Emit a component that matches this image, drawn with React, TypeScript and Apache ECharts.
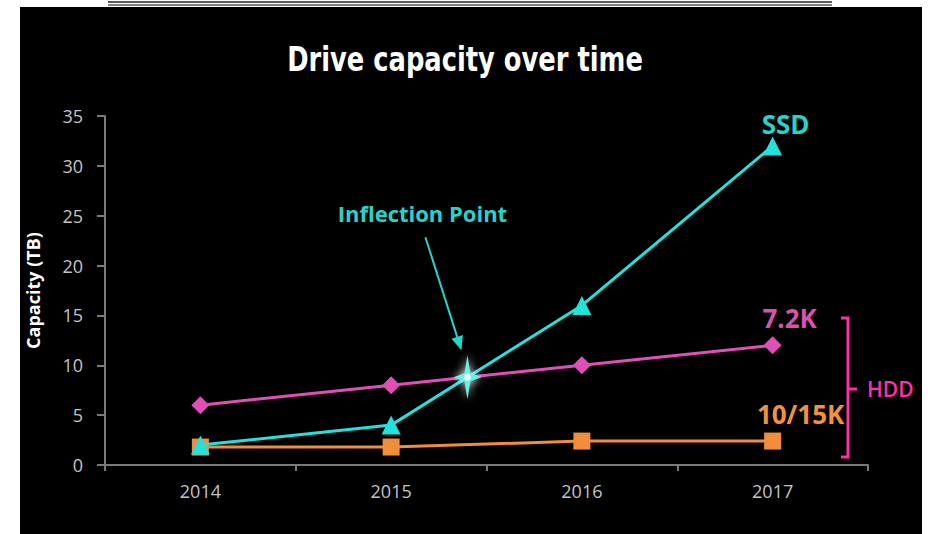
import React, { useEffect, useRef } from "react";
import * as echarts from "echarts";

// Drive capacity (TB) by year for each drive type
const YEARS = ["2014", "2015", "2016", "2017"];
const SSD = [2, 4, 16, 32];
const HDD_72K = [6, 8, 10, 12];
const HDD_1015K = [1.8, 1.8, 2.4, 2.4];

// Value axis range and step
const Y_MIN = 0;
const Y_MAX = 35;
const Y_STEP = 5;

const SERIES_NAMES = ["7.2K", "10/15K", "SSD"];
const TITLE = "Drive capacity over time";

const CYAN = "#22e2dc";
const CYAN_TEXT = "#27d3cc";
const PINK = "#e04fb6";
const PINK_TEXT = "#d952b0";
const ORANGE = "#f28d3a";
const ORANGE_TEXT = "#f0923f";
const HDD_PINK = "#ff2fa8";

// Four-pointed sparkle used to highlight the crossing point
echarts.graphic.registerShape(
  "sparkle",
  echarts.graphic.extendPath(
    "M0,-22 L3,-4 L14,0 L3,4 L0,22 L-3,4 L-14,0 L-3,-4 Z",
    {}
  )
);

function measure(text: string, font: string): number {
  const ctx = document.createElement("canvas").getContext("2d");
  if (!ctx) return 0;
  ctx.font = font;
  return ctx.measureText(text).width;
}

export default function App() {
  const ref = useRef<HTMLDivElement>(null);

  useEffect(() => {
    if (!ref.current) return;
    const chart = echarts.init(ref.current, null, { renderer: "svg" });

    const font = '"Open Sans", "Noto Sans", sans-serif';

    chart.setOption({
      animation: false,
      backgroundColor: "#ffffff",
      grid: { left: 105, right: 62, top: 116, bottom: 69 },
      xAxis: {
        type: "category",
        data: YEARS,
        boundaryGap: true,
        axisLine: { lineStyle: { color: "#7a7a7a", width: 2 } },
        axisTick: { show: true, length: 6, lineStyle: { color: "#7a7a7a", width: 2 } },
        axisLabel: { color: "#c4c4c4", fontSize: 18, fontFamily: font, margin: 17 },
      },
      yAxis: {
        type: "value",
        min: Y_MIN,
        max: Y_MAX,
        interval: Y_STEP,
        name: "Capacity (TB)",
        nameLocation: "middle",
        nameRotate: 90,
        nameGap: 63,
        nameTextStyle: { color: "#ffffff", fontSize: 18, fontWeight: "bold", fontFamily: font },
        axisLine: { show: true, lineStyle: { color: "#7a7a7a", width: 2 } },
        axisTick: { show: true, length: 8, lineStyle: { color: "#7a7a7a", width: 2 } },
        splitLine: { show: false },
        axisLabel: { color: "#c4c4c4", fontSize: 18, fontFamily: font, margin: 22 },
      },
      series: [
        {
          name: SERIES_NAMES[0],
          type: "line",
          data: HDD_72K,
          symbol: "diamond",
          symbolSize: 18,
          lineStyle: { color: PINK, width: 3 },
          itemStyle: { color: PINK },
          z: 2,
        },
        {
          name: SERIES_NAMES[1],
          type: "line",
          data: HDD_1015K,
          symbol: "rect",
          symbolSize: 17,
          lineStyle: { color: ORANGE, width: 3 },
          itemStyle: { color: ORANGE },
          z: 3,
        },
        {
          name: SERIES_NAMES[2],
          type: "line",
          data: SSD,
          symbol: "triangle",
          symbolSize: 19,
          lineStyle: { color: CYAN, width: 3 },
          itemStyle: { color: CYAN },
          z: 4,
        },
      ],
    });

    const px = (i: number, v: number) =>
      chart.convertToPixel({ gridIndex: 0 }, [YEARS[i], v]) as number[];

    // Crossing of the SSD and 7.2K lines between 2015 and 2016
    const i0 = 1;
    const t = (HDD_72K[i0] - SSD[i0]) / (SSD[i0 + 1] - SSD[i0] - (HDD_72K[i0 + 1] - HDD_72K[i0]));
    const a = px(i0, SSD[i0]);
    const b = px(i0 + 1, SSD[i0 + 1]);
    const cx = a[0] + (b[0] - a[0]) * t;
    const cy = a[1] + (b[1] - a[1]) * t;

    // Arrow from the label down to the crossing
    const arrowStart = [cx - 42, cy - 140];
    const arrowEnd = [cx - 6, cy - 27];
    const ang = Math.atan2(arrowEnd[1] - arrowStart[1], arrowEnd[0] - arrowStart[0]);
    const headLen = 14;
    const headHalf = 6;
    const baseX = arrowEnd[0] - headLen * Math.cos(ang);
    const baseY = arrowEnd[1] - headLen * Math.sin(ang);
    const nx = -Math.sin(ang);
    const ny = Math.cos(ang);

    const last = YEARS.length - 1;
    const ssdEnd = px(last, SSD[last]);
    const h72End = px(last, HDD_72K[last]);
    const h1015End = px(last, HDD_1015K[last]);

    const labelFont = (size: number, weight: string) => `${weight} ${size}px ${font}`;

    // Condensed heading: squeeze the bold face to the heading's width
    const titleFont = 'bold 33px "DejaVu Sans Condensed", "DejaVu Sans", sans-serif';
    const titleW = measure(TITLE, titleFont) || 356;
    const titleScale = Math.min(1, 356 / titleW);

    chart.setOption({
      graphic: [
        // dark slide panel
        {
          type: "rect",
          shape: { x: 20, y: 7, width: 902, height: 527 },
          style: { fill: "#000000" },
          z: -10,
          silent: true,
        },
        {
          type: "line",
          shape: { x1: 108, y1: 2, x2: 832, y2: 2 },
          style: { stroke: "#222222", lineWidth: 1.5 },
          z: -10,
        },
        {
          type: "line",
          shape: { x1: 108, y1: 5, x2: 832, y2: 5 },
          style: { stroke: "#555555", lineWidth: 1.5 },
          z: -10,
        },
        {
          type: "text",
          x: 465,
          y: 59,
          scaleX: titleScale,
          style: {
            text: TITLE,
            font: titleFont,
            fill: "#ffffff",
            textAlign: "center",
            textVerticalAlign: "middle",
          },
          z: 10,
        },
        // series labels at the line ends
        {
          type: "text",
          x: ssdEnd[0] + 13,
          y: ssdEnd[1] - 22,
          style: {
            text: "SSD",
            font: labelFont(26, "bold"),
            fill: CYAN_TEXT,
            textAlign: "center",
            textVerticalAlign: "middle",
          },
          z: 10,
        },
        {
          type: "text",
          x: h72End[0] + 17,
          y: h72End[1] - 27,
          style: {
            text: "7.2K",
            font: labelFont(26, "bold"),
            fill: PINK_TEXT,
            textAlign: "center",
            textVerticalAlign: "middle",
          },
          z: 10,
        },
        {
          type: "text",
          x: h1015End[0] + 28,
          y: h1015End[1] - 27,
          style: {
            text: "10/15K",
            font: labelFont(26, "bold"),
            fill: ORANGE_TEXT,
            textAlign: "center",
            textVerticalAlign: "middle",
          },
          z: 10,
        },
        // HDD bracket
        {
          type: "polyline",
          shape: { points: [[841, 318], [848, 318], [848, 457], [841, 457]] },
          style: { stroke: HDD_PINK, lineWidth: 3, fill: "none" },
          z: 10,
        },
        {
          type: "line",
          shape: { x1: 848, y1: 389, x2: 857, y2: 389 },
          style: { stroke: HDD_PINK, lineWidth: 3 },
          z: 10,
        },
        {
          type: "text",
          x: 867,
          y: 389,
          style: {
            text: "HDD",
            font: labelFont(21, "600"),
            fill: HDD_PINK,
            textAlign: "left",
            textVerticalAlign: "middle",
          },
          z: 10,
        },
        // inflection annotation
        {
          type: "text",
          x: cx - 45,
          y: cy - 164,
          style: {
            text: "Inflection Point",
            font: labelFont(22, "bold"),
            fill: CYAN_TEXT,
            textAlign: "center",
            textVerticalAlign: "middle",
          },
          z: 10,
        },
        {
          type: "line",
          shape: { x1: arrowStart[0], y1: arrowStart[1], x2: baseX, y2: baseY },
          style: { stroke: CYAN_TEXT, lineWidth: 2 },
          z: 10,
        },
        {
          type: "polygon",
          shape: {
            points: [
              [arrowEnd[0], arrowEnd[1]],
              [baseX + nx * headHalf, baseY + ny * headHalf],
              [baseX - nx * headHalf, baseY - ny * headHalf],
            ],
          },
          style: { fill: CYAN_TEXT },
          z: 10,
        },
        {
          type: "sparkle",
          x: cx,
          y: cy,
          style: { fill: "#5ff4ee", shadowBlur: 10, shadowColor: "#ffffff" },
          z: 11,
        },
        {
          type: "circle",
          shape: { cx: cx, cy: cy, r: 3.5 },
          style: { fill: "#e8ffff" },
          z: 12,
        },
      ],
    });

    return () => chart.dispose();
  }, []);

  return (
    <div
      ref={ref}
      style={{ position: "absolute", left: 0, top: 0, width: 930, height: 534 }}
    />
  );
}
